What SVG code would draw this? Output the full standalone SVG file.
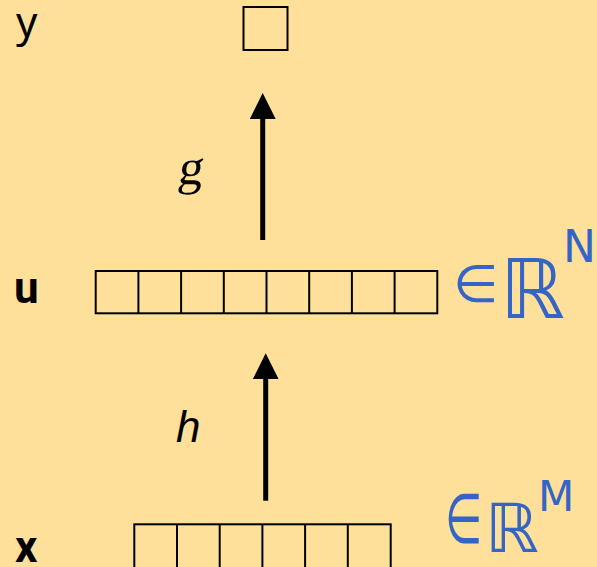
<svg xmlns="http://www.w3.org/2000/svg" width="597" height="567" viewBox="0 0 597 567">
  <style>
    .cell { fill: none; stroke: #000; stroke-width: 2; }
    .lbl { font-family: "Noto Sans", "Open Sans", sans-serif; fill: #000; }
    .bold { font-weight: bold; font-family: Roboto, "Liberation Sans", sans-serif; font-size: 44px; }
    .ink { font-family: "DejaVu Sans", sans-serif; fill: #3465C6; }
    .conn { stroke: #000; stroke-width: 5; fill: none; }
  </style>
  <defs>
    <marker id="head" viewBox="0 0 26 26" refX="1" refY="13" markerWidth="26" markerHeight="26" markerUnits="userSpaceOnUse" orient="auto">
      <path d="M0,0 L26,13 L0,26 z" fill="#000"/>
    </marker>
  </defs>
  <rect x="0" y="0" width="597" height="567" fill="#FEE09A"/>

  <g id="node-y">
    <text class="lbl" x="16" y="37" font-size="42">y</text>
    <rect class="cell" x="243.5" y="7" width="44" height="43"/>
  </g>

  <g id="node-u">
    <text class="lbl bold" x="14" y="303">u</text>
    <rect class="cell" x="95.7" y="271" width="341.6" height="42.3"/>
    <path class="cell" d="M138.4,271V313.3M181.1,271V313.3M223.8,271V313.3M266.5,271V313.3M309.2,271V313.3M351.9,271V313.3M394.6,271V313.3"/>
    <text class="ink" x="453" y="302" font-size="52">∈</text>
    <text class="ink" x="500" y="318" font-size="82">ℝ</text>
    <text class="ink" x="563" y="262" font-size="44">N</text>
  </g>

  <g id="node-x">
    <text class="lbl bold" x="15" y="562">x</text>
    <rect class="cell" x="134.3" y="524.3" width="256.4" height="44"/>
    <path class="cell" d="M177,524.3V567M219.7,524.3V567M262.4,524.3V567M305.1,524.3V567M347.8,524.3V567"/>
    <text class="ink" transform="translate(445,543) scale(0.65,1.05)" x="0" y="0" font-size="66">∈</text>
    <text class="ink" x="485" y="552" font-size="68">ℝ</text>
    <text class="ink" x="538" y="511" font-size="42">M</text>
  </g>

  <g id="connectors">
    <line class="conn" x1="262.7" y1="240" x2="262.7" y2="118" marker-end="url(#head)"/>
    <line class="conn" x1="265.7" y1="500.7" x2="265.7" y2="378.3" marker-end="url(#head)"/>
    <text transform="translate(177,184) skewX(-8)" x="0" y="0" font-family="Liberation Serif, serif" font-size="50" fill="#000">g</text>
    <text x="176" y="442" font-family="Liberation Sans, sans-serif" font-style="italic" font-size="44" fill="#000">h</text>
  </g>
</svg>
